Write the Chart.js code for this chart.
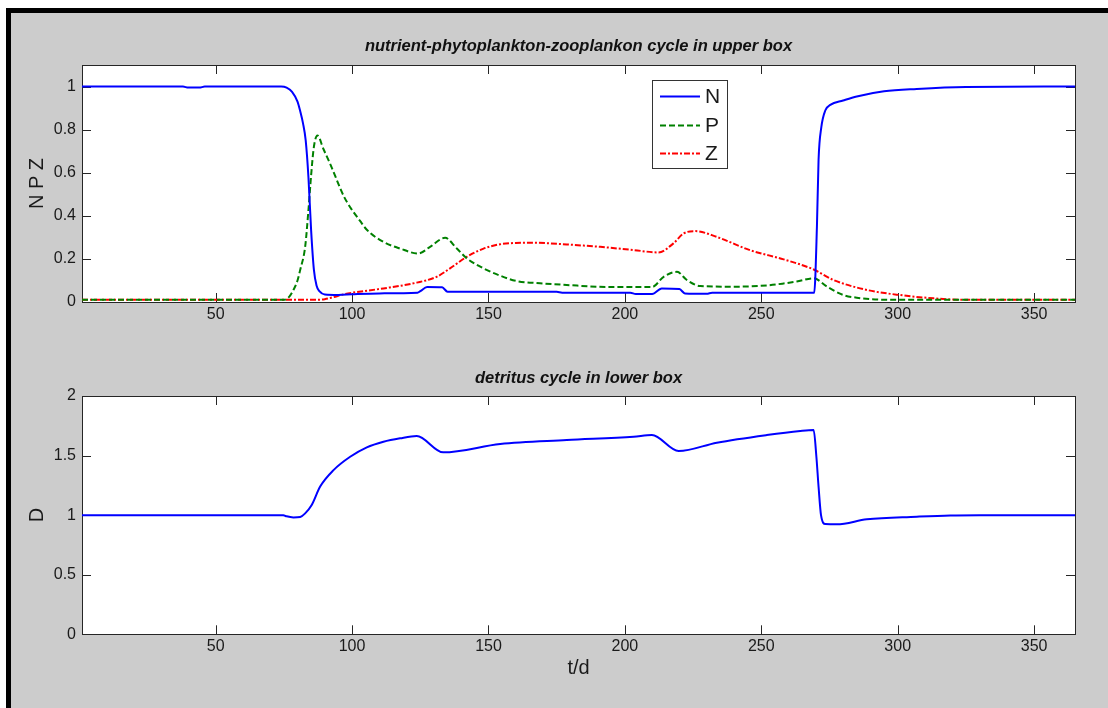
<!DOCTYPE html>
<html>
<head>
<meta charset="utf-8">
<title>NPZ box model</title>
<script src="https://cdn.jsdelivr.net/npm/chart.js@4.4.1/dist/chart.umd.min.js"></script>
<style>
  html, body { margin: 0; padding: 0; background: #fff; }
  body { width: 1108px; height: 708px; position: relative; overflow: hidden; }
  #figure {
    position: absolute; left: 6px; top: 8px; width: 1097px; height: 695px;
    background: #ccc; border-left: 5px solid #000; border-top: 5px solid #000;
  }
  canvas { position: absolute; left: 0; }
  #upper { top: 0; }
  #lower { top: 340px; }
</style>
</head>
<body>
<div id="figure"></div>
<canvas id="upper" width="1108" height="340"></canvas>
<canvas id="lower" width="1108" height="368"></canvas>
<script>
// tick positions
const dayTicks = [50, 100, 150, 200, 250, 300, 350];
const npzTicks = [0, 0.2, 0.4, 0.6, 0.8, 1];
const dTicks = [0, 0.5, 1, 1.5, 2];

// nutrient N (upper box)
const nDay = [1, 38, 40, 44, 46, 74, 76, 78, 80, 81, 82, 83, 84, 85, 86, 87, 88, 90, 95, 100, 110,
  124, 125, 127.5, 133, 135, 150, 175, 177, 202, 204, 210, 213.5, 220, 222, 230, 232,
  269.4, 270.4, 271, 272, 273.5, 275.3, 280, 285, 295, 307, 325, 365];
const nVal = [1, 1, 0.995, 0.995, 1, 1, 0.995, 0.975, 0.93, 0.885, 0.83, 0.75, 0.58, 0.33, 0.15, 0.075, 0.05, 0.035, 0.033, 0.036, 0.04,
  0.043, 0.05, 0.07, 0.068, 0.048, 0.048, 0.047, 0.043, 0.043, 0.037, 0.037, 0.063, 0.06, 0.04, 0.038, 0.043,
  0.043, 0.35, 0.66, 0.81, 0.89, 0.915, 0.935, 0.954, 0.978, 0.989, 0.998, 1];

// phytoplankton P
const pDay = [1, 75, 77, 78.5, 80, 81, 82.8, 84, 85, 86, 87.3, 89.5, 92, 97, 99.3, 103, 105.4, 111.5, 117.6,
  124.3, 128.6, 134.1, 138.4, 142.1, 148.2, 154.3, 160.4, 168.9, 178.7, 193.4, 210, 214.2, 219.1, 222.7,
  227.6, 239.8, 252, 258.2, 263, 269.2, 274.1, 280.2, 285, 290, 301, 365];
const pVal = [0.01, 0.01, 0.025, 0.056, 0.1, 0.15, 0.256, 0.426, 0.59, 0.72, 0.773, 0.71, 0.64, 0.49, 0.44, 0.375, 0.335, 0.279, 0.248,
  0.225, 0.256, 0.298, 0.248, 0.202, 0.156, 0.122, 0.097, 0.087, 0.079, 0.07, 0.07, 0.117, 0.14, 0.102,
  0.074, 0.071, 0.077, 0.086, 0.095, 0.11, 0.071, 0.032, 0.02, 0.013, 0.01, 0.01];

// zooplankton Z
const zDay = [1, 85, 90, 93, 97, 100, 111.5, 123.7, 131, 135.9, 142.1, 148.2, 154.3, 160, 166.5, 178.7, 191, 203.2,
  212.3, 217.8, 221.5, 225.8, 233.7, 246, 258.2, 269.2, 276.5, 288.7, 301, 313.2, 325, 365];
const zVal = [0.01, 0.01, 0.013, 0.022, 0.036, 0.043, 0.063, 0.09, 0.117, 0.156, 0.21, 0.248, 0.268, 0.274, 0.275, 0.267, 0.256, 0.241,
  0.23, 0.272, 0.318, 0.329, 0.302, 0.24, 0.198, 0.151, 0.102, 0.056, 0.032, 0.017, 0.01, 0.01];

// detritus D (lower box)
const dDay = [1, 74.8, 76, 78.5, 81, 82.8, 85.2, 88.3, 93.2, 99.3, 105.4, 111.5, 117.6, 123.7, 133.4, 154.3, 178.7,
  203.2, 209.9, 219.7, 233.7, 252, 264.3, 269.2, 270.2, 271, 271.9, 273.5, 277.7, 288.7, 307, 319.3, 330, 365];
const dVal = [1, 1, 0.99, 0.981, 0.985, 1.015, 1.085, 1.24, 1.378, 1.49, 1.569, 1.616, 1.645, 1.664, 1.527, 1.597, 1.63,
  1.658, 1.672, 1.538, 1.608, 1.672, 1.706, 1.714, 1.49, 1.238, 1.0, 0.925, 0.923, 0.965, 0.987, 0.998, 1, 1];

const FONT = "'Liberation Sans', Arial, Helvetica, sans-serif";
const TXT = '#1a1a1a';

const pairs = (days, vals) => days.map((d, i) => ({ x: d, y: vals[i] }));

// white axes background, box and inward ticks on all four sides
const axesBox = {
  id: 'axesBox',
  beforeDraw(chart) {
    const { ctx, chartArea: a } = chart;
    ctx.save();
    ctx.fillStyle = '#fff';
    ctx.fillRect(a.left, a.top, a.width, a.height);
    ctx.restore();
  },
  beforeDatasetsDraw(chart) {
    const { ctx, chartArea: a, scales } = chart;
    const len = 9;
    ctx.save();
    ctx.strokeStyle = '#262626';
    ctx.lineWidth = 1;
    ctx.beginPath();
    scales.x.ticks.forEach(t => {
      const px = Math.round(scales.x.getPixelForValue(t.value)) + 0.5;
      ctx.moveTo(px, a.bottom); ctx.lineTo(px, a.bottom - len);
      ctx.moveTo(px, a.top); ctx.lineTo(px, a.top + len);
    });
    scales.y.ticks.forEach(t => {
      const py = Math.round(scales.y.getPixelForValue(t.value)) + 0.5;
      ctx.moveTo(a.left, py); ctx.lineTo(a.left + len, py);
      ctx.moveTo(a.right, py); ctx.lineTo(a.right - len, py);
    });
    ctx.stroke();
    ctx.strokeRect(Math.round(a.left) + 0.5, Math.round(a.top) + 0.5,
      Math.round(a.width), Math.round(a.height));
    ctx.restore();
  }
};

// italic bold title centred over the axes
const panelTitle = {
  id: 'panelTitle',
  afterDraw(chart, args, opts) {
    const { ctx, chartArea: a } = chart;
    ctx.save();
    ctx.font = 'italic bold 16.5px ' + FONT;
    ctx.fillStyle = '#111';
    ctx.textAlign = 'center';
    ctx.textBaseline = 'middle';
    ctx.fillText(opts.text, (a.left + a.right) / 2, a.top - opts.gap);
    ctx.restore();
  }
};

// boxed legend inside the plot
const boxLegend = {
  id: 'boxLegend',
  afterDraw(chart, args, opts) {
    if (!opts.show) return;
    const { ctx, chartArea: a } = chart;
    const left = a.left + opts.dx, top = a.top + opts.dy;
    ctx.save();
    ctx.fillStyle = '#fff';
    ctx.fillRect(left, top, opts.w, opts.h);
    ctx.strokeStyle = '#333';
    ctx.lineWidth = 1;
    ctx.strokeRect(Math.round(left) + 0.5, Math.round(top) + 0.5, opts.w, opts.h);
    ctx.font = '21px ' + FONT;
    ctx.fillStyle = TXT;
    ctx.textBaseline = 'middle';
    chart.data.datasets.forEach((ds, i) => {
      const y = Math.round(top + opts.first + i * opts.row) + 0.5;
      ctx.strokeStyle = ds.borderColor;
      ctx.lineWidth = ds.borderWidth;
      ctx.setLineDash(ds.borderDash || []);
      ctx.beginPath();
      ctx.moveTo(left + 8, y);
      ctx.lineTo(left + 48, y);
      ctx.stroke();
      ctx.setLineDash([]);
      ctx.fillText(ds.label, left + 53, y + 1);
    });
    ctx.restore();
  }
};

function xAxis(height, label) {
  return {
    type: 'linear', min: 1, max: 365,
    afterBuildTicks: s => { s.ticks = dayTicks.map(v => ({ value: v })); },
    afterFit: s => { s.height = height; },
    grid: { display: false, drawTicks: false },
    border: { display: false },
    ticks: { font: { family: FONT, size: 16 }, color: TXT, padding: 3, maxRotation: 0, autoSkip: false, callback: v => String(v) },
    title: label
      ? { display: true, text: label, font: { family: FONT, size: 20 }, color: TXT, padding: { top: 0, bottom: 28 } }
      : { display: false }
  };
}

function yAxis(max, tickList, label) {
  return {
    type: 'linear', min: 0, max: max,
    afterBuildTicks: s => { s.ticks = tickList.map(v => ({ value: v })); },
    afterFit: s => { s.width = 82; },
    grid: { display: false, drawTicks: false },
    border: { display: false },
    ticks: { font: { family: FONT, size: 16 }, color: TXT, padding: 6, autoSkip: false, callback: v => String(v) },
    title: { display: true, text: label, font: { family: FONT, size: 20 }, color: TXT, padding: { top: 25, bottom: 0 } }
  };
}

const lineDefaults = { pointRadius: 0, borderWidth: 2, fill: false, cubicInterpolationMode: 'monotone' };

new Chart(document.getElementById('upper'), {
  type: 'line',
  data: {
    datasets: [
      { ...lineDefaults, label: 'N', data: pairs(nDay, nVal), borderColor: '#0000ff' },
      { ...lineDefaults, label: 'P', data: pairs(pDay, pVal), borderColor: '#008000', borderDash: [6, 3] },
      { ...lineDefaults, label: 'Z', data: pairs(zDay, zVal), borderColor: '#ff0000', borderDash: [6, 2, 2, 2] }
    ]
  },
  options: {
    responsive: false,
    animation: false,
    layout: { padding: { top: 65, right: 33, left: 0, bottom: 0 } },
    scales: { x: xAxis(38, null), y: yAxis(1.1, npzTicks, 'N P Z') },
    plugins: {
      legend: { display: false },
      tooltip: { enabled: false },
      panelTitle: { text: 'nutrient-phytoplankton-zooplankon cycle in upper box', gap: 19 },
      boxLegend: { show: true, dx: 570, dy: 15, w: 75, h: 88, first: 16, row: 28.7 }
    }
  },
  plugins: [axesBox, panelTitle, boxLegend]
});

new Chart(document.getElementById('lower'), {
  type: 'line',
  data: {
    datasets: [
      { ...lineDefaults, label: 'D', data: pairs(dDay, dVal), borderColor: '#0000ff' }
    ]
  },
  options: {
    responsive: false,
    animation: false,
    layout: { padding: { top: 56, right: 33, left: 0, bottom: 0 } },
    scales: { x: xAxis(73.7, 't/d'), y: yAxis(2, dTicks, 'D') },
    plugins: {
      legend: { display: false },
      tooltip: { enabled: false },
      panelTitle: { text: 'detritus cycle in lower box', gap: 18 },
      boxLegend: { show: false }
    }
  },
  plugins: [axesBox, panelTitle, boxLegend]
});
</script>
</body>
</html>
